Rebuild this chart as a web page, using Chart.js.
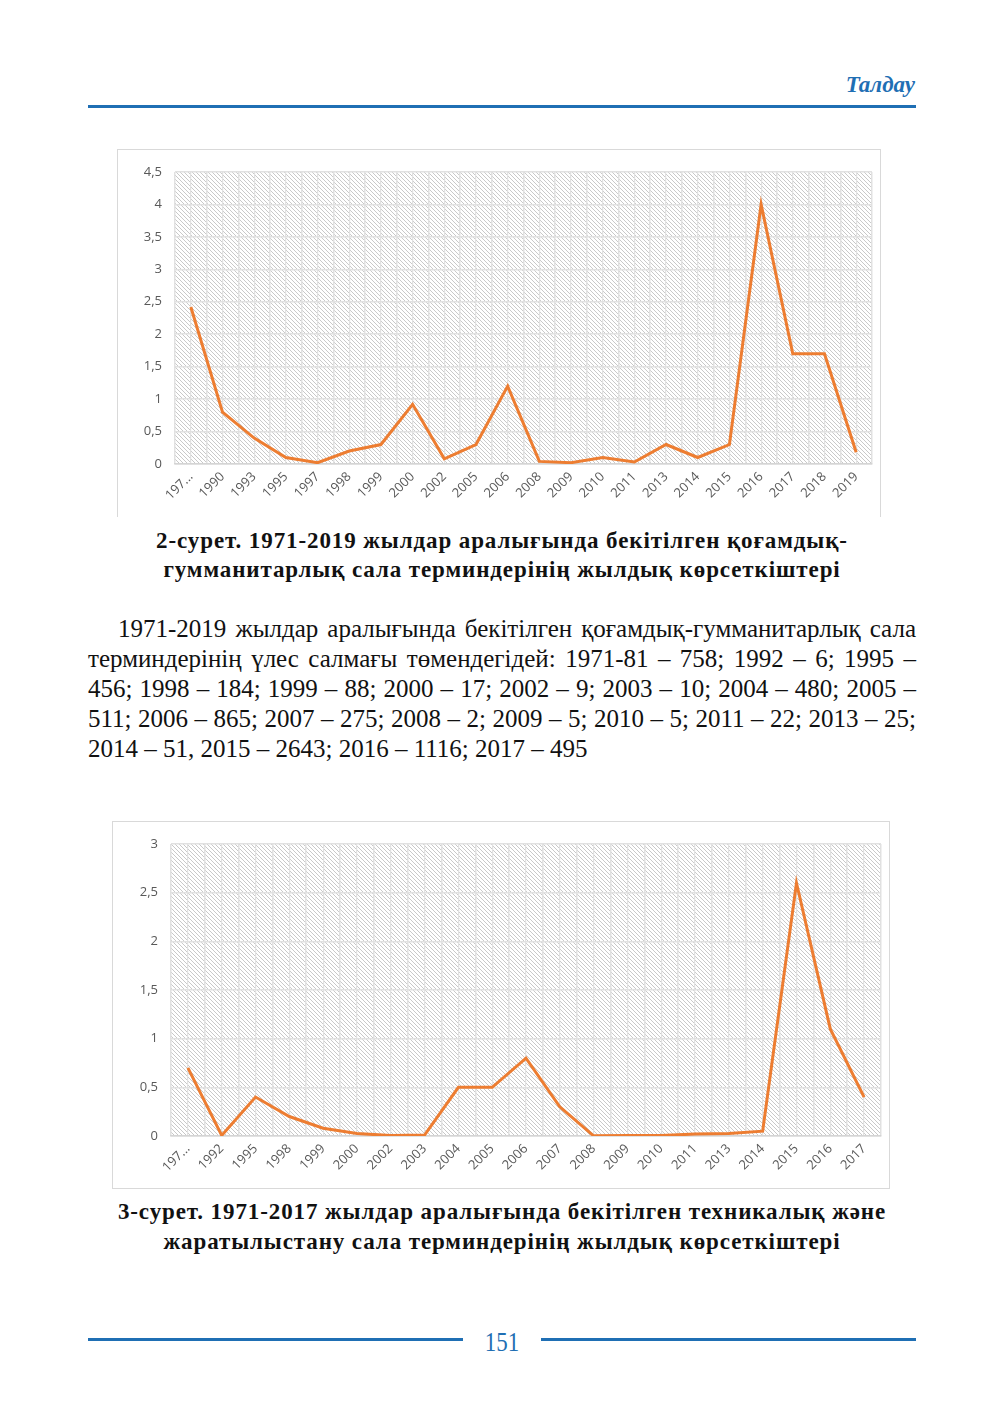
<!DOCTYPE html>
<html>
<head>
<meta charset="utf-8">
<script src="https://cdn.jsdelivr.net/npm/chart.js@4/dist/chart.umd.min.js"></script>
<style>
  html, body { margin:0; padding:0; background:#fff; }
  body { width:1004px; height:1417px; position:relative; overflow:hidden; }
  .abs { position:absolute; }
  .hdr { right:89px; top:70px; font-family:'Liberation Serif', serif; font-weight:bold; font-style:italic; font-size:23px; color:#1f6fb4; line-height:30px; }
  .rule { background:#1f6fb4; height:3px; }
  .cap { font-family:'Liberation Serif', serif; font-weight:bold; font-size:23px; letter-spacing:0.9px; color:#111; text-align:center; }
  .para { left:88px; width:828px; top:614px; font-family:'Liberation Serif', serif; font-size:25px; line-height:30px; color:#111; }
  .para div { text-align:justify; text-align-last:justify; white-space:nowrap; }
  .para div.last { text-align-last:left; }
  .box { border:1px solid #d9d9d9; box-sizing:border-box; pointer-events:none; }
  .pg { font-family:'Liberation Serif', serif; font-size:27px; color:#1f6fb4; left:472px; width:60px; text-align:center; top:1327px; line-height:30px; transform:scaleX(0.85); }
</style>
</head>
<body>
<div class="abs hdr">Талдау</div>
<div class="abs rule" style="left:88px; top:105px; width:828px;"></div>

<canvas id="c1" class="abs" width="763" height="367" style="left:117px; top:149px;"></canvas>
<div class="abs box" style="left:117px; top:149px; width:764px; height:368px; border-bottom:none;"></div>

<div class="abs cap" style="left:88px; width:828px; top:526px; line-height:29px;">
  2-сурет. 1971-2019 жылдар аралығында бекітілген қоғамдық-<br>гумманитарлық сала терминдерінің жылдық көрсеткіштері
</div>

<div class="abs para">
  <div style="text-indent:30px;">1971-2019 жылдар аралығында бекітілген қоғамдық-гумманитарлық сала</div>
  <div>терминдерінің үлес салмағы төмендегідей: 1971-81 – 758; 1992 – 6; 1995 –</div>
  <div>456; 1998 – 184; 1999 – 88; 2000 – 17; 2002 – 9; 2003 – 10; 2004 – 480; 2005 –</div>
  <div>511; 2006 – 865; 2007 – 275; 2008 – 2; 2009 – 5; 2010 – 5; 2011 – 22; 2013 – 25;</div>
  <div class="last">2014 – 51, 2015 – 2643; 2016 – 1116; 2017 – 495</div>
</div>

<canvas id="c2" class="abs" width="777" height="367" style="left:112px; top:821px;"></canvas>
<div class="abs box" style="left:112px; top:821px; width:778px; height:368px;"></div>

<div class="abs cap" style="left:88px; width:828px; top:1197px; line-height:30px;">
  3-сурет. 1971-2017 жылдар аралығында бекітілген техникалық және<br>жаратылыстану сала терминдерінің жылдық көрсеткіштері
</div>

<div class="abs rule" style="left:88px; top:1338px; width:375px;"></div>
<div class="abs rule" style="left:541px; top:1338px; width:375px;"></div>
<div class="abs pg">151</div>

<script>
// ---- Data ----
const categories1 = ['197...', '1990', '1993', '1995', '1997', '1998', '1999', '2000', '2002', '2005', '2006',
                     '2008', '2009', '2010', '2011', '2013', '2014', '2015', '2016', '2017', '2018', '2019'];
const values1 = [2.42, 0.8, 0.4, 0.1, 0.02, 0.2, 0.3, 0.92, 0.08, 0.3, 1.2,
                 0.04, 0.02, 0.1, 0.03, 0.3, 0.1, 0.3, 4.0, 1.7, 1.7, 0.18];
const yMax1 = 4.5;

const categories2 = ['197...', '1992', '1995', '1998', '1999', '2000', '2002', '2003', '2004', '2005', '2006',
                     '2007', '2008', '2009', '2010', '2011', '2013', '2014', '2015', '2016', '2017'];
const values2 = [0.7, 0.006, 0.4, 0.2, 0.08, 0.025, 0.005, 0.01, 0.5, 0.5, 0.8,
                 0.3, 0.002, 0.005, 0.005, 0.02, 0.025, 0.05, 2.6, 1.1, 0.4];
const yMax2 = 3;
const yStep = 0.5;

// ---- Styling helpers ----
const tickFont = { family: "'Open Sans', 'Noto Sans', sans-serif", size: 13 };
const tickColor = '#595959';
const gridColor = '#e1e1e1';

function makeHatch(ctx) {
  const c = document.createElement('canvas');
  c.width = 4; c.height = 4;
  const g = c.getContext('2d');
  g.fillStyle = '#ffffff';
  g.fillRect(0, 0, 4, 4);
  g.strokeStyle = '#c9c9c9';
  g.lineWidth = 1;
  g.beginPath();
  g.moveTo(-1, -1); g.lineTo(5, 5);
  g.moveTo(-1, 3); g.lineTo(1, 5);
  g.moveTo(3, -1); g.lineTo(5, 1);
  g.stroke();
  return ctx.createPattern(c, 'repeat');
}

const hatchPlugin = {
  id: 'hatchBg',
  beforeDraw(chart) {
    const { ctx, chartArea: a } = chart;
    ctx.save();
    ctx.fillStyle = makeHatch(ctx);
    ctx.fillRect(a.left, a.top, a.right - a.left, a.bottom - a.top);
    ctx.restore();
  }
};

function makeChart(id, labels, values, yMax, yWidth) {
  return new Chart(document.getElementById(id), {
    type: 'line',
    data: {
      labels: labels,
      datasets: [{
        data: values,
        borderColor: '#ED7D31',
        borderWidth: 3,
        pointRadius: 0,
        tension: 0,
        fill: false,
        borderJoinStyle: 'miter'
      }]
    },
    options: {
      responsive: false,
      animation: false,
      devicePixelRatio: 1,
      layout: { padding: { top: 23, right: 8, left: 0, bottom: 0 } },
      plugins: { legend: { display: false }, tooltip: { enabled: false } },
      scales: {
        x: {
          type: 'category',
          offset: true,
          grid: { offset: true, color: gridColor, lineWidth: 1.5, drawTicks: false },
          border: { color: '#d4d4d4', width: 1.5 },
          ticks: { autoSkip: false, maxRotation: 45, minRotation: 45, color: tickColor, font: tickFont, padding: 5 },
          afterFit: s => { s.height = 52; }
        },
        x2: {
          type: 'category',
          position: 'bottom',
          offset: true,
          grid: { offset: false, color: gridColor, lineWidth: 1.2, drawTicks: false },
          border: { display: false },
          ticks: { display: false },
          afterFit: s => { s.height = 0; }
        },
        y: {
          min: 0,
          max: yMax,
          ticks: {
            stepSize: yStep,
            color: tickColor,
            font: tickFont,
            padding: 13,
            callback: v => String(v).replace('.', ',')
          },
          grid: { color: gridColor, lineWidth: 1.5, drawTicks: false },
          border: { display: false },
          afterFit: s => { s.width = yWidth; }
        }
      }
    },
    plugins: [hatchPlugin]
  });
}

makeChart('c1', categories1, values1, yMax1, 58);
makeChart('c2', categories2, values2, yMax2, 59);
</script>
</body>
</html>
